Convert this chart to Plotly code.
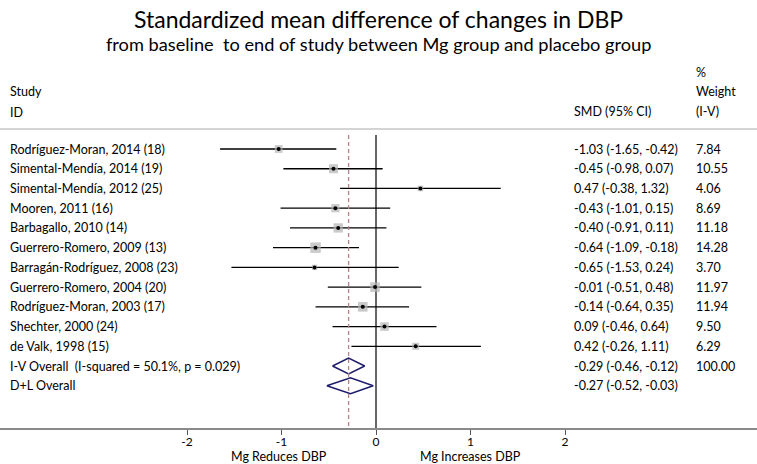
import plotly.graph_objects as go

studies = ["Rodríguez-Moran, 2014 (18)", "Simental-Mendía, 2014 (19)", "Simental-Mendía, 2012 (25)",
           "Mooren, 2011 (16)", "Barbagallo, 2010 (14)", "Guerrero-Romero, 2009 (13)",
           "Barragán-Rodríguez, 2008 (23)", "Guerrero-Romero, 2004 (20)", "Rodríguez-Moran, 2003 (17)",
           "Shechter, 2000 (24)", "de Valk, 1998 (15)"]
smd = [-1.03, -0.45, 0.47, -0.43, -0.40, -0.64, -0.65, -0.01, -0.14, 0.09, 0.42]
lo = [-1.65, -0.98, -0.38, -1.01, -0.91, -1.09, -1.53, -0.51, -0.64, -0.46, -0.26]
hi = [-0.42, 0.07, 1.32, 0.15, 0.11, -0.18, 0.24, 0.48, 0.35, 0.64, 1.11]
weight = [7.84, 10.55, 4.06, 8.69, 11.18, 14.28, 3.70, 11.97, 11.94, 9.50, 6.29]

overall_labels = ["I-V Overall  (I-squared = 50.1%, p = 0.029)", "D+L Overall"]
overall_est = [-0.29, -0.27]
overall_lo = [-0.46, -0.52]
overall_hi = [-0.12, -0.03]
overall_weight = ["100.00", ""]

tick_vals = [-2, -1, 0, 1, 2]

W, H = 757, 464
PLOT_H = 428
ROW0, ROWH = 149, 19.73
PXU = 94.5
X0PX = 376
xmin = -X0PX / PXU
xmax = (W - X0PX) / PXU

def py(px):
    return 1 - px / PLOT_H

def px_x(px):
    return px / W

FONT = "Lato"
FS = 12.5
fig = go.Figure()

n = len(studies)
rows = list(range(n))

# CI lines
xs, ys = [], []
for i in rows:
    xs += [lo[i], hi[i], None]
    ys += [i, i, None]
fig.add_trace(go.Scatter(x=xs, y=ys, mode="lines", line=dict(color="black", width=1.3),
                         hoverinfo="skip", showlegend=False))
# weight squares
maxw = max(weight)
sizes = [10.5 * (w / maxw) ** 0.5 for w in weight]
fig.add_trace(go.Scatter(x=smd, y=rows, mode="markers",
                         marker=dict(symbol="square", size=sizes, color="#b4b4b4", line=dict(width=0)),
                         showlegend=False, hoverinfo="skip"))
fig.add_trace(go.Scatter(x=smd, y=rows, mode="markers",
                         marker=dict(symbol="circle", size=4, color="black"),
                         showlegend=False, hoverinfo="skip"))

# diamonds
for j in range(2):
    y = n + j
    h = 0.4
    fig.add_trace(go.Scatter(
        x=[overall_lo[j], overall_est[j], overall_hi[j], overall_est[j], overall_lo[j]],
        y=[y, y - h, y, y + h, y], mode="lines",
        line=dict(color="#1c1c6b", width=1.5), showlegend=False, hoverinfo="skip"))

yb = (PLOT_H - ROW0) / ROWH
yt = -ROW0 / ROWH
ytop_lines = (135 - ROW0) / ROWH

shapes = [
    dict(type="line", xref="x", yref="y", x0=0, x1=0, y0=ytop_lines, y1=yb,
         line=dict(color="black", width=1.2), layer="below"),
    dict(type="line", xref="x", yref="y", x0=overall_est[0], x1=overall_est[0], y0=ytop_lines, y1=yb,
         line=dict(color="#b3858a", width=1.3, dash="4px,3px")),
    dict(type="line", xref="paper", yref="paper", x0=0, x1=1, y0=py(129), y1=py(129),
         line=dict(color="#d4d4d4", width=2)),
]

ann = []
def text(x, y, s, size=FS, anchor="left", yanchor="middle"):
    ann.append(dict(x=x, y=y, xref="paper", yref="paper", text=s, showarrow=False,
                    xanchor=anchor, yanchor=yanchor, font=dict(family=FONT, size=size, color="black")))

text(0.5, py(19), "Standardized mean difference of changes in DBP", size=23, anchor="center")
text(0.5, py(44), "from baseline  to end of study between Mg group and placebo group", size=18.2, anchor="center")
text(px_x(8), py(91), "Study")
text(px_x(8), py(112), "ID")
text(px_x(572), py(111), "SMD (95% CI)")
text(px_x(694), py(72), "%")
text(px_x(694), py(91), "Weight")
text(px_x(694), py(111), "(I-V)")

def fmt(v):
    return f"{v:.2f}"

for i in rows:
    yp = py(ROW0 + ROWH * i)
    text(px_x(8), yp, studies[i])
    text(px_x(572), yp, f"{fmt(smd[i])} ({fmt(lo[i])}, {fmt(hi[i])})")
    text(px_x(694), yp, f"{weight[i]:.2f}")
for j in range(2):
    yp = py(ROW0 + ROWH * (n + j))
    text(px_x(8), yp, overall_labels[j])
    text(px_x(572), yp, f"{fmt(overall_est[j])} ({fmt(overall_lo[j])}, {fmt(overall_hi[j])})")
    if overall_weight[j]:
        text(px_x(694), yp, overall_weight[j])

text((X0PX - PXU) / W - 0.003, py(456.5), "Mg Reduces DBP", size=12.5, anchor="center")
text((X0PX + PXU) / W, py(456.5), "Mg Increases DBP", size=12.5, anchor="center")

fig.update_layout(
    width=W, height=H, margin=dict(l=0, r=0, t=0, b=H - PLOT_H),
    plot_bgcolor="white", paper_bgcolor="white",
    shapes=shapes, annotations=ann,
    xaxis=dict(range=[xmin, xmax], tickvals=tick_vals, ticktext=[str(v) for v in tick_vals],
               showgrid=False, zeroline=False, showline=True, linecolor="#8a8a8a", linewidth=2,
               ticks="outside", ticklen=5, tickcolor="#555555", tickwidth=1, ticklabelstandoff=-3,
               tickfont=dict(family=FONT, size=12, color="black")),
    yaxis=dict(range=[yb, yt], showgrid=False, zeroline=False, showticklabels=False, showline=False),
)

fig.write_html("out.html", config={"displayModeBar": False},
               post_script="document.body.style.margin='0';document.body.style.overflow='hidden';")
